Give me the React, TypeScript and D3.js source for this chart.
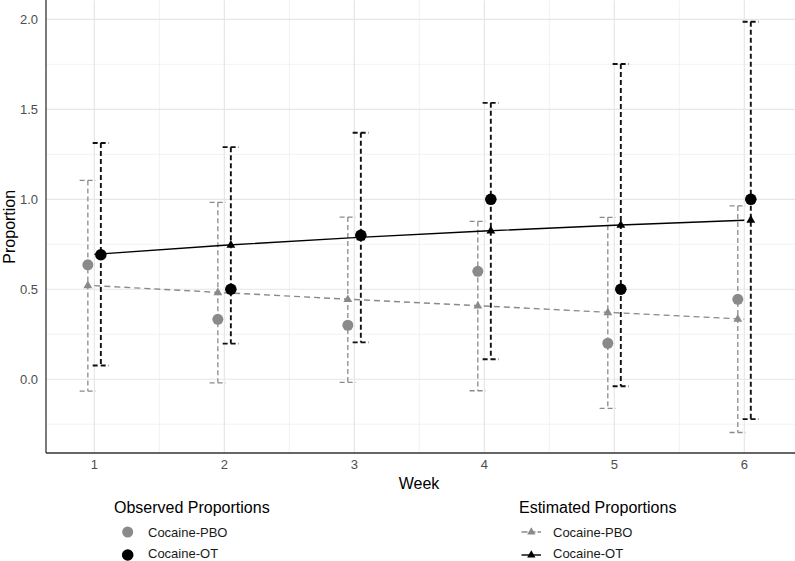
import { scaleLinear, line, symbol, symbolTriangle, range } from "d3";

const width = 795;
const height = 561;

// panel edges
const panelLeft = 46;
const panelRight = 795;
const panelTop = 0.5;
const panelBottom = 453;

const weeks = [1, 2, 3, 4, 5, 6];
const yTicks = [0, 0.5, 1, 1.5, 2];
const yTickLabels = ["0.0", "0.5", "1.0", "1.5", "2.0"];

// observed proportions
const obsPBO = [0.636, 0.333, 0.3, 0.6, 0.2, 0.444];
const obsOT = [0.692, 0.5, 0.8, 1.0, 0.5, 1.0];

// estimated proportions with intervals
const estPBO = [0.52, 0.481, 0.443, 0.407, 0.37, 0.334];
const estPBOLow = [-0.066, -0.02, -0.017, -0.064, -0.162, -0.296];
const estPBOHigh = [1.105, 0.983, 0.901, 0.877, 0.9, 0.963];
const estOT = [0.694, 0.745, 0.787, 0.824, 0.856, 0.884];
const estOTLow = [0.076, 0.198, 0.205, 0.111, -0.039, -0.222];
const estOTHigh = [1.313, 1.29, 1.37, 1.536, 1.752, 1.987];

const grey = "#8a8a8a";
const font = "'Liberation Sans', Arial, Helvetica, sans-serif";

const x = scaleLinear().domain([0.628, 6.39]).range([panelLeft, panelRight]);
const y = scaleLinear().domain([-0.41, 2.105]).range([panelBottom, panelTop]);

const dodge = 0.05;
const capHalf = 0.063;

const xMinor = range(0.5, 7, 1).filter((v) => x(v) > panelLeft && x(v) < panelRight);
const yMinor = range(-0.25, 2.2, 0.5);

const tri = symbol().type(symbolTriangle).size(34)();
const triLegend = symbol().type(symbolTriangle).size(30)();

// ggplot draws an errorbar as three pieces: top cap, stem, bottom cap
const errorPath = (w: number, lo: number, hi: number, off: number) => {
  const xc = x(w + off);
  const x0 = x(w + off - capHalf);
  const x1 = x(w + off + capHalf);
  return `M${x0},${y(hi)}L${x1},${y(hi)}M${xc},${y(hi)}L${xc},${y(lo)}M${x0},${y(lo)}L${x1},${y(lo)}`;
};

const estLine = line<number>()
  .x((_, i) => x(weeks[i]))
  .y((d) => y(d));

const legendRow1 = 532;
const legendRow2 = 554;

export default function App() {
  return (
    <svg
      width={width}
      height={height}
      style={{ position: "absolute", left: 0, top: 0, background: "white" }}
      fontFamily={font}
    >
      {/* grid */}
      {xMinor.map((v) => (
        <line key={"xm" + v} x1={x(v)} x2={x(v)} y1={panelTop} y2={panelBottom} stroke="#ededed" strokeWidth={0.7} />
      ))}
      {yMinor.map((v) => (
        <line key={"ym" + v} x1={panelLeft} x2={panelRight} y1={y(v)} y2={y(v)} stroke="#ededed" strokeWidth={0.7} />
      ))}
      {weeks.map((w) => (
        <line key={"xg" + w} x1={x(w)} x2={x(w)} y1={panelTop} y2={panelBottom} stroke="#e6e6e6" strokeWidth={1.2} />
      ))}
      {yTicks.map((v) => (
        <line key={"yg" + v} x1={panelLeft} x2={panelRight} y1={y(v)} y2={y(v)} stroke="#e6e6e6" strokeWidth={1.2} />
      ))}

      {/* error bars */}
      {weeks.map((w, i) => (
        <path
          key={"ep" + w}
          d={errorPath(w, estPBOLow[i], estPBOHigh[i], -dodge)}
          fill="none"
          stroke={grey}
          strokeWidth={1.3}
          strokeDasharray="5,3"
        />
      ))}
      {weeks.map((w, i) => (
        <path
          key={"eo" + w}
          d={errorPath(w, estOTLow[i], estOTHigh[i], dodge)}
          fill="none"
          stroke="#111"
          strokeWidth={1.9}
          strokeDasharray="5,3"
        />
      ))}

      {/* estimated lines */}
      <path d={estLine(estPBO) ?? ""} fill="none" stroke={grey} strokeWidth={1.4} strokeDasharray="6,4" />
      <path d={estLine(estOT) ?? ""} fill="none" stroke="#000" strokeWidth={1.4} />

      {/* observed points */}
      {weeks.map((w, i) => (
        <circle key={"op" + w} cx={x(w - dodge)} cy={y(obsPBO[i])} r={5.5} fill={grey} />
      ))}
      {weeks.map((w, i) => (
        <circle key={"oo" + w} cx={x(w + dodge)} cy={y(obsOT[i])} r={5.8} fill="#000" />
      ))}

      {/* estimated points */}
      {weeks.map((w, i) => (
        <path key={"tp" + w} d={tri} transform={`translate(${x(w - dodge)},${y(estPBO[i])})`} fill={grey} />
      ))}
      {weeks.map((w, i) => (
        <path key={"to" + w} d={tri} transform={`translate(${x(w + dodge)},${y(estOT[i])})`} fill="#000" />
      ))}

      {/* axes */}
      <line x1={panelLeft} x2={panelLeft} y1={0} y2={panelBottom} stroke="#333" strokeWidth={1.3} />
      <line x1={panelLeft} x2={panelRight} y1={panelBottom} y2={panelBottom} stroke="#333" strokeWidth={1.3} />

      {yTicks.map((v, i) => (
        <text key={"yl" + v} x={38} y={y(v)} dy="0.35em" textAnchor="end" fontSize={13} fill="#4d4d4d">
          {yTickLabels[i]}
        </text>
      ))}
      {weeks.map((w) => (
        <text key={"xl" + w} x={x(w)} y={464} dy="0.35em" textAnchor="middle" fontSize={13} fill="#4d4d4d">
          {w}
        </text>
      ))}

      <text x={419} y={483} dy="0.35em" textAnchor="middle" fontSize={16} fill="#000">
        Week
      </text>
      <text
        transform={`translate(9,${(panelTop + panelBottom) / 2}) rotate(-90)`}
        dy="0.35em"
        textAnchor="middle"
        fontSize={16}
        fill="#000"
      >
        Proportion
      </text>

      {/* legend: observed */}
      <text x={114} y={507} dy="0.35em" fontSize={16} fill="#000">
        Observed Proportions
      </text>
      <circle cx={127.7} cy={legendRow1} r={5.5} fill={grey} />
      <text x={148} y={legendRow1} dy="0.35em" fontSize={13} fill="#1a1a1a">
        Cocaine-PBO
      </text>
      <circle cx={127.7} cy={legendRow2 + 1} r={5.8} fill="#000" />
      <text x={148} y={legendRow2} dy="0.33em" fontSize={13} fill="#1a1a1a">
        Cocaine-OT
      </text>

      {/* legend: estimated */}
      <text x={519} y={507} dy="0.35em" fontSize={16} fill="#000">
        Estimated Proportions
      </text>
      <line x1={521.5} x2={541} y1={legendRow1} y2={legendRow1} stroke={grey} strokeWidth={1.4} strokeDasharray="6,2" />
      <path d={triLegend} transform={`translate(531.3,${legendRow1})`} fill={grey} />
      <text x={553} y={legendRow1} dy="0.35em" fontSize={13} fill="#1a1a1a">
        Cocaine-PBO
      </text>
      <line x1={521.5} x2={541} y1={legendRow2 + 1} y2={legendRow2 + 1} stroke="#000" strokeWidth={1.4} />
      <path d={triLegend} transform={`translate(531.3,${legendRow2 + 1})`} fill="#000" />
      <text x={553} y={legendRow2} dy="0.33em" fontSize={13} fill="#1a1a1a">
        Cocaine-OT
      </text>
    </svg>
  );
}
